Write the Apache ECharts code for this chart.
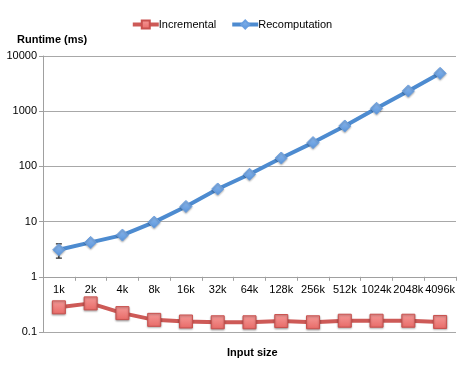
<!DOCTYPE html>
<html>
<head>
<meta charset="utf-8">
<script src="https://cdn.jsdelivr.net/npm/echarts@6/dist/echarts.min.js"></script>
<style>
  html, body { margin: 0; padding: 0; background: #fff; }
  #chart { width: 463px; height: 365px; }
</style>
</head>
<body>
<div id="chart"></div>
<script>
// 数据
var sizes = ['1k', '2k', '4k', '8k', '16k', '32k', '64k', '128k', '256k', '512k', '1024k', '2048k', '4096k'];
var incremental = [0.28, 0.33, 0.22, 0.166, 0.155, 0.15, 0.15, 0.158, 0.15, 0.16, 0.16, 0.16, 0.152];
var recomputation = [3.1, 4.2, 5.7, 9.8, 18.8, 39, 72, 142, 270, 540, 1130, 2330, 4850];
// 误差线 [index, low, high]
var incErr = [[0, 0.245, 0.3]];
var recErr = [[0, 2.18, 3.95], [1, 3.9, 4.5]];
var yTicks = [0.1, 1, 10, 100, 1000, 10000];

var chart = echarts.init(document.getElementById('chart'));
var font = 'Liberation Sans';

function errorBar(params, api) {
  var lo = api.coord([api.value(0), api.value(1)]);
  var hi = api.coord([api.value(0), api.value(2)]);
  var w = 3;
  var st = { stroke: '#222', lineWidth: 1.2 };
  return {
    type: 'group',
    children: [
      { type: 'line', shape: { x1: lo[0], y1: lo[1], x2: hi[0], y2: hi[1] }, style: st },
      { type: 'line', shape: { x1: lo[0] - w, y1: lo[1], x2: lo[0] + w, y2: lo[1] }, style: st },
      { type: 'line', shape: { x1: hi[0] - w, y1: hi[1], x2: hi[0] + w, y2: hi[1] }, style: st }
    ]
  };
}

var option = {
  animation: false,
  textStyle: { fontFamily: font },
  title: [
    { text: 'Runtime (ms)', left: 12, top: 29, textStyle: { fontSize: 11, fontWeight: 'bold', color: '#000', fontFamily: font } },
    { text: 'Input size', left: 222, top: 342, textStyle: { fontSize: 11, fontWeight: 'bold', color: '#000', fontFamily: font } }
  ],
  legend: {
    top: 14,
    left: 'center',
    itemWidth: 26,
    itemHeight: 10,
    itemGap: 14,
    lineStyle: { width: 4 },
    textStyle: { fontSize: 11, color: '#000', padding: [0, 0, 0, -5] },
    data: ['Incremental', 'Recomputation']
  },
  grid: { left: 43, right: 7, top: 56, bottom: 33 },
  xAxis: {
    type: 'category',
    data: sizes,
    boundaryGap: true,
    offset: -55.2,
    axisLine: { onZero: false, lineStyle: { color: '#a0a0a0', width: 1 } },
    axisTick: { show: true, length: 4, lineStyle: { color: '#a0a0a0' } },
    axisLabel: { interval: 0, fontSize: 11, color: '#000', margin: 8 },
    splitLine: { show: false }
  },
  yAxis: {
    type: 'log',
    logBase: 10,
    min: yTicks[0],
    max: yTicks[yTicks.length - 1],
    axisLine: { show: true, lineStyle: { color: '#a0a0a0' } },
    axisTick: { show: true, length: 4, lineStyle: { color: '#a0a0a0' } },
    axisLabel: {
      fontSize: 11, color: '#000', margin: 6,
      formatter: function (v) { return String(v); }
    },
    splitLine: { lineStyle: { color: '#a8a8a8', width: 1 } }
  },
  series: [
    {
      name: 'Incremental',
      type: 'line',
      data: incremental,
      symbol: 'rect',
      symbolSize: 13,
      lineStyle: { color: '#cd5a57', width: 4 },
      itemStyle: {
        color: new echarts.graphic.LinearGradient(0, 0, 0, 1, [
          { offset: 0, color: '#f59a98' },
          { offset: 1, color: '#e86a67' }
        ]),
        borderColor: '#c9514e',
        borderWidth: 1,
        shadowColor: 'rgba(0,0,0,0.3)',
        shadowBlur: 2,
        shadowOffsetY: 1
      },
      z: 3
    },
    {
      name: 'Recomputation',
      type: 'line',
      data: recomputation,
      symbol: 'diamond',
      symbolSize: 12,
      lineStyle: { color: '#4d8bd0', width: 4 },
      itemStyle: {
        color: new echarts.graphic.LinearGradient(0, 0, 0, 1, [
          { offset: 0, color: '#8db8ec' },
          { offset: 1, color: '#5b96dc' }
        ]),
        borderColor: '#6a9fe0',
        borderWidth: 1,
        shadowColor: 'rgba(0,0,0,0.3)',
        shadowBlur: 2,
        shadowOffsetY: 1
      },
      z: 3
    },
    {
      type: 'custom',
      renderItem: errorBar,
      data: incErr,
      encode: { x: 0, y: [1, 2] },
      z: 2,
      silent: true
    },
    {
      type: 'custom',
      renderItem: errorBar,
      data: recErr,
      encode: { x: 0, y: [1, 2] },
      z: 2,
      silent: true
    }
  ]
};

chart.setOption(option);
</script>
</body>
</html>
